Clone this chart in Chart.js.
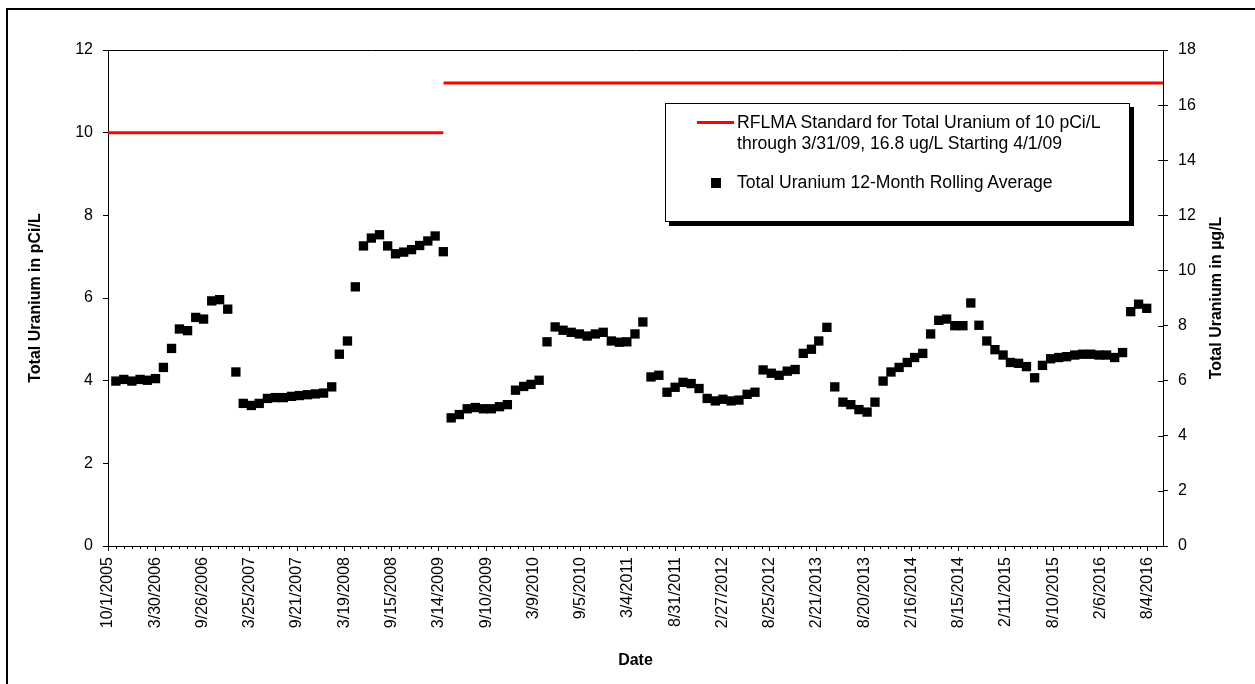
<!DOCTYPE html>
<html>
<head>
<meta charset="utf-8">
<title>Total Uranium 12-Month Rolling Average</title>
<script src="https://cdn.jsdelivr.net/npm/chart.js@4.4.0/dist/chart.umd.min.js"></script>
<style>
  body { margin: 0; background: #fff; }
  .wrap { position: relative; width: 1255px; height: 684px; overflow: hidden; font-family: "Liberation Sans", Arial, sans-serif; }
  .frame { position: absolute; left: 6px; top: 8px; width: 1270px; height: 700px; border: 2px solid #000; }
  #chart { position: absolute; left: 0; top: 0; }
  .legend { position: absolute; left: 665px; top: 103px; width: 463px; height: 117px; border: 1px solid #000; background: #fff; box-shadow: 4px 4px 0 #000; color: #000; font-size: 17.6px; line-height: 21px; }
  .legend .line { position: absolute; left: 31px; top: 17px; width: 37px; height: 3px; background: #ff0000; }
  .legend .box { position: absolute; left: 45px; top: 74px; width: 10px; height: 10px; background: #000; }
  .legend .txt { position: absolute; left: 71px; white-space: nowrap; }
</style>
</head>
<body>
<div class="wrap">
  <div class="frame"></div>
  <canvas id="chart" width="1255" height="684"></canvas>
  <div class="legend">
    <div class="line"></div>
    <div class="txt" style="top:8px">RFLMA Standard for Total Uranium of 10 pCi/L<br>through 3/31/09, 16.8 ug/L Starting 4/1/09</div>
    <div class="box"></div>
    <div class="txt" style="top:68px">Total Uranium 12-Month Rolling Average</div>
  </div>
</div>
<script>
// sample dates (month end) and 12-month rolling average in pCi/L
const sampleDates = [
  '10/31/2005', '11/30/2005', '12/31/2005',
  '1/31/2006', '2/28/2006', '3/31/2006', '4/30/2006', '5/31/2006', '6/30/2006', '7/31/2006', '8/31/2006', '9/30/2006', '10/31/2006', '11/30/2006', '12/31/2006',
  '1/31/2007', '2/28/2007', '3/31/2007', '4/30/2007', '5/31/2007', '6/30/2007', '7/31/2007', '8/31/2007', '9/30/2007', '10/31/2007', '11/30/2007', '12/31/2007',
  '1/31/2008', '2/29/2008', '3/31/2008', '4/30/2008', '5/31/2008', '6/30/2008', '7/31/2008', '8/31/2008', '9/30/2008', '10/31/2008', '11/30/2008', '12/31/2008',
  '1/31/2009', '2/28/2009', '3/31/2009', '4/30/2009', '5/31/2009', '6/30/2009', '7/31/2009', '8/31/2009', '9/30/2009', '10/31/2009', '11/30/2009', '12/31/2009',
  '1/31/2010', '2/28/2010', '3/31/2010', '4/30/2010', '5/31/2010', '6/30/2010', '7/31/2010', '8/31/2010', '9/30/2010', '10/31/2010', '11/30/2010', '12/31/2010',
  '1/31/2011', '2/28/2011', '3/31/2011', '4/30/2011', '5/31/2011', '6/30/2011', '7/31/2011', '8/31/2011', '9/30/2011', '10/31/2011', '11/30/2011', '12/31/2011',
  '1/31/2012', '2/29/2012', '3/31/2012', '4/30/2012', '5/31/2012', '6/30/2012', '7/31/2012', '8/31/2012', '9/30/2012', '10/31/2012', '11/30/2012', '12/31/2012',
  '1/31/2013', '2/28/2013', '3/31/2013', '4/30/2013', '5/31/2013', '6/30/2013', '7/31/2013', '8/31/2013', '9/30/2013', '10/31/2013', '11/30/2013', '12/31/2013',
  '1/31/2014', '2/28/2014', '3/31/2014', '4/30/2014', '5/31/2014', '6/30/2014', '7/31/2014', '8/31/2014', '9/30/2014', '10/31/2014', '11/30/2014', '12/31/2014',
  '1/31/2015', '2/28/2015', '3/31/2015', '4/30/2015', '5/31/2015', '6/30/2015', '7/31/2015', '8/31/2015', '9/30/2015', '10/31/2015', '11/30/2015', '12/31/2015',
  '1/31/2016', '2/29/2016', '3/31/2016', '4/30/2016', '5/31/2016', '6/30/2016', '7/31/2016'
];
const uraniumPciL = [
  3.99, 4.03, 3.99,
  4.03, 4.01, 4.05, 4.32, 4.78, 5.25, 5.21, 5.53, 5.49, 5.93, 5.96, 5.73,
  4.21, 3.45, 3.40, 3.45, 3.57, 3.59, 3.59, 3.62, 3.64, 3.66, 3.68, 3.70,
  3.85, 4.64, 4.96, 6.27, 7.26, 7.45, 7.53, 7.26, 7.07, 7.11, 7.17, 7.27,
  7.38, 7.50, 7.12, 3.10, 3.18, 3.32, 3.35, 3.32, 3.32, 3.37, 3.42, 3.77,
  3.86, 3.91, 4.01, 4.94, 5.30, 5.22, 5.17, 5.13, 5.08, 5.13, 5.17, 4.96,
  4.93, 4.94, 5.13, 5.42, 4.09, 4.13, 3.72, 3.84, 3.96, 3.93, 3.81, 3.57,
  3.51, 3.55, 3.51, 3.53, 3.67, 3.72, 4.26, 4.18, 4.13, 4.23, 4.27, 4.66,
  4.76, 4.96, 5.29, 3.85, 3.48, 3.42, 3.30, 3.24, 3.48, 3.99, 4.21, 4.32,
  4.44, 4.56, 4.66, 5.13, 5.46, 5.49, 5.33, 5.33, 5.88, 5.34, 4.96, 4.75,
  4.62, 4.44, 4.42, 4.34, 4.07, 4.37, 4.53, 4.56, 4.58, 4.62, 4.64, 4.64,
  4.62, 4.62, 4.56, 4.68, 5.67, 5.85, 5.75
];

// RFLMA standard: 10 pCi/L (left axis) then 16.8 ug/L (right axis)
const stdPciDates = ['10/1/2005', '3/31/2009'];
const stdPciValues = [10, 10];
const stdUgDates = ['4/1/2009', '10/1/2016'];
const stdUgValues = [16.8, 16.8];

// axis settings
const axisStart = '10/1/2005';
const axisEnd = '10/1/2016';
const majorDays = 180;
const minorDays = 30;
const pciTicks = [0, 2, 4, 6, 8, 10, 12];
const ugTicks = [0, 2, 4, 6, 8, 10, 12, 14, 16, 18];

const DAY = 86400000;
function parseDate(s) {
    const p = s.split('/').map(Number);
    return Date.UTC(p[2], p[0] - 1, p[1]);
}
const START = parseDate(axisStart);
function toDay(s) {
    return Math.round((parseDate(s) - START) / DAY);
}
function dayLabel(v) {
    const d = new Date(START + v * DAY);
    return (d.getUTCMonth() + 1) + '/' + d.getUTCDate() + '/' + d.getUTCFullYear();
}
function points(dates, vals) {
    return dates.map((d, i) => ({ x: toDay(d), y: vals[i] }));
}
const maxDay = toDay(axisEnd);

Chart.defaults.font.family = '"Liberation Sans", Arial, sans-serif';
Chart.defaults.font.size = 16;
Chart.defaults.color = '#000';

// extra pieces Excel draws: plot top border, minor ticks, right axis cross ticks, right title
const extras = {
    id: 'extras',
    afterDraw(chart) {
        const c = chart.ctx;
        const a = chart.chartArea;
        const xs = chart.scales.x;
        const y2 = chart.scales.y2;
        c.save();
        c.strokeStyle = '#000';
        c.lineWidth = 1;
        c.beginPath();
        c.moveTo(a.left, a.top + 0.5);
        c.lineTo(a.right, a.top + 0.5);
        for (let v = minorDays; v < maxDay; v += minorDays) {
            if (v % majorDays === 0) continue;
            const px = Math.round(xs.getPixelForValue(v)) + 0.5;
            c.moveTo(px, a.bottom);
            c.lineTo(px, a.bottom + 3);
        }
        for (const t of ugTicks) {
            const py = Math.round(y2.getPixelForValue(t)) + 0.5;
            c.moveTo(a.right - 5, py);
            c.lineTo(a.right, py);
        }
        c.stroke();
        c.translate(1217, (a.top + a.bottom) / 2);
        c.rotate(-Math.PI / 2);
        c.font = 'bold 16px "Liberation Sans", Arial, sans-serif';
        c.fillStyle = '#000';
        c.textAlign = 'center';
        c.textBaseline = 'middle';
        c.fillText('Total Uranium in \u00b5g/L', 0, 0);
        c.restore();
    }
};

const axisGrid = { drawOnChartArea: false, color: '#000', tickLength: 5 };
const axisBorder = { color: '#000', width: 1 };

new Chart(document.getElementById('chart'), {
    type: 'scatter',
    data: {
        datasets: [
            {
                label: 'RFLMA Standard for Total Uranium of 10 pCi/L through 3/31/09',
                data: points(stdPciDates, stdPciValues),
                showLine: true,
                borderColor: '#ff0000',
                borderWidth: 3,
                pointRadius: 0,
                yAxisID: 'y'
            },
            {
                label: '16.8 ug/L Starting 4/1/09',
                data: points(stdUgDates, stdUgValues),
                showLine: true,
                borderColor: '#ff0000',
                borderWidth: 3,
                pointRadius: 0,
                yAxisID: 'y2'
            },
            {
                label: 'Total Uranium 12-Month Rolling Average',
                data: points(sampleDates, uraniumPciL),
                pointStyle: 'rect',
                pointRadius: 6.6,
                backgroundColor: '#000',
                borderColor: '#000',
                borderWidth: 0,
                yAxisID: 'y'
            }
        ]
    },
    options: {
        responsive: false,
        animation: false,
        layout: { padding: { top: 50, left: 0, right: 0, bottom: 0 } },
        plugins: { legend: { display: false }, tooltip: { enabled: false } },
        scales: {
            x: {
                type: 'linear',
                min: 0,
                max: maxDay,
                grid: axisGrid,
                border: axisBorder,
                afterBuildTicks(scale) {
                    const t = [];
                    for (let v = 0; v <= maxDay; v += majorDays) t.push({ value: v });
                    scale.ticks = t;
                },
                afterFit(scale) { scale.height = 138; },
                ticks: {
                    autoSkip: false,
                    minRotation: 90,
                    maxRotation: 90,
                    padding: 6,
                    callback: v => dayLabel(v)
                },
                title: { display: true, text: 'Date', font: { weight: 'bold', size: 16 }, padding: { top: 0, bottom: 14 } }
            },
            y: {
                position: 'left',
                min: 0,
                max: 12,
                grid: axisGrid,
                border: axisBorder,
                afterBuildTicks(scale) { scale.ticks = pciTicks.map(v => ({ value: v })); },
                afterFit(scale) { scale.width = 108; },
                ticks: { padding: 10 },
                title: { display: true, text: 'Total Uranium in pCi/L', font: { weight: 'bold', size: 16 }, padding: { top: 26, bottom: 0 } }
            },
            y2: {
                position: 'right',
                min: 0,
                max: 18,
                grid: axisGrid,
                border: axisBorder,
                afterBuildTicks(scale) { scale.ticks = ugTicks.map(v => ({ value: v })); },
                afterFit(scale) { scale.width = 92; },
                ticks: { padding: 10 }
            }
        }
    },
    plugins: [extras]
});
</script>
</body>
</html>
